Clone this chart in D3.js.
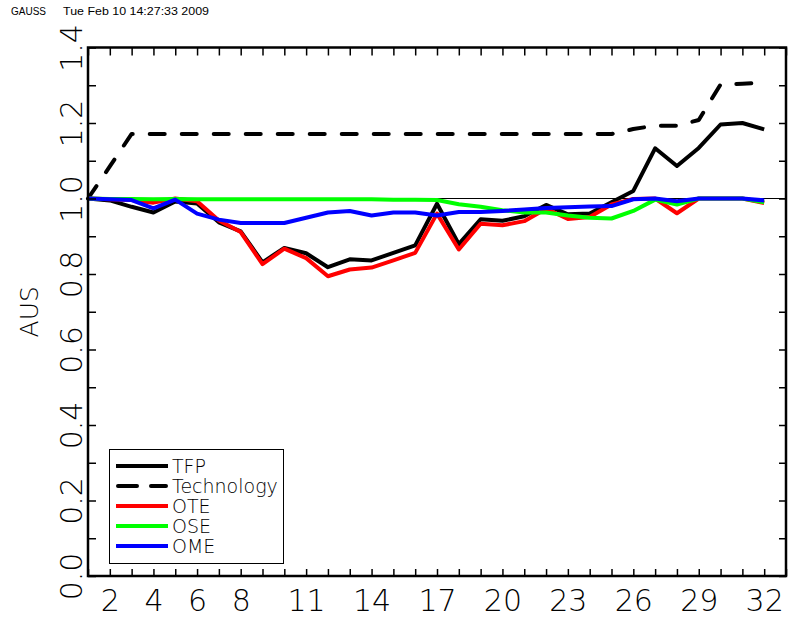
<!DOCTYPE html>
<html>
<head>
<meta charset="utf-8">
<script src="https://cdn.jsdelivr.net/npm/d3@7"></script>
<style>
  html, body { margin: 0; padding: 0; background: #fff; }
  svg { display: block; }
  .big { font-family: "DejaVu Sans", "Liberation Sans", sans-serif; font-weight: 200; }
  .small { font-family: "Liberation Sans", Arial, sans-serif; }
</style>
</head>
<body>
<script>
// Period index along the horizontal axis
const periods = [1,2,3,4,5,6,7,8,9,10,11,12,13,14,15,16,17,18,19,20,21,22,23,24,25,26,27,28,29,30,31,32];
const xTickLabels = [2,4,6,8,11,14,17,20,23,26,29,32];
const yTickLabels = [0.0,0.2,0.4,0.6,0.8,1.0,1.2,1.4];

// Index series (base = 1.0)
const tfp = [1.000,0.995,0.978,0.963,0.992,0.987,0.937,0.913,0.831,0.869,0.855,0.818,0.839,0.836,0.856,0.876,
             0.986,0.879,0.945,0.941,0.953,0.983,0.958,0.960,0.990,1.020,1.133,1.086,1.134,1.196,1.200,1.183];
const technology = [1.000,1.085,1.171,1.171,1.171,1.171,1.171,1.171,1.171,1.171,1.171,1.171,1.171,1.171,1.171,1.171,
             1.171,1.171,1.171,1.171,1.171,1.171,1.171,1.171,1.171,1.184,1.193,1.193,1.208,1.302,1.304,1.307];
const ote = [1.000,0.998,0.996,0.989,1.000,0.993,0.942,0.911,0.826,0.867,0.842,0.794,0.812,0.817,0.836,0.856,
             0.960,0.865,0.933,0.929,0.940,0.973,0.946,0.951,0.984,0.999,1.000,0.961,1.000,1.000,1.000,0.988];
const ose = [1.000,0.999,0.999,0.998,0.999,0.998,0.998,0.998,0.998,0.998,0.998,0.998,0.998,0.998,0.997,0.997,
             0.996,0.985,0.978,0.969,0.963,0.963,0.955,0.949,0.947,0.967,0.997,0.984,1.000,1.000,1.000,0.990];
const ome = [1.000,0.998,0.996,0.974,0.997,0.960,0.944,0.935,0.935,0.935,0.949,0.963,0.967,0.955,0.963,0.963,
             0.955,0.964,0.964,0.967,0.971,0.975,0.977,0.979,0.980,0.998,1.000,0.993,1.000,1.000,1.000,0.995];

const seriesNames = ["TFP","Technology","OTE","OSE","OME"];
const seriesValues = [tfp, technology, ote, ose, ome];
const seriesColors = ["#000000","#000000","#ff0000","#00ff00","#0000ff"];
const seriesDashed = [false, true, false, false, false];

const W = 789, H = 618;
const plotL = 88, plotR = 786, plotT = 47.5, plotB = 576;

const svg = d3.select("body").append("svg").attr("width", W).attr("height", H);

const x = d3.scaleLinear().domain([1, 33]).range([plotL, plotR]);
const y = d3.scaleLinear().domain([0, 1.4]).range([plotB, plotT]);

// Header stamp
svg.append("text").attr("class","small").attr("x", 11).attr("y", 15)
  .attr("font-size", 10).text("GAUSS");
svg.append("text").attr("class","small").attr("x", 63).attr("y", 15)
  .attr("font-size", 10).attr("textLength", 146).attr("lengthAdjust","spacingAndGlyphs")
  .text("Tue Feb 10 14:27:33 2009");

// Reference line at 1.0
svg.append("line")
  .attr("x1", x(1)).attr("x2", x(33))
  .attr("y1", y(1.0)).attr("y2", y(1.0))
  .attr("stroke", "#000").attr("stroke-width", 1);

// Series lines
const line = d3.line().x((d, i) => x(periods[i])).y(d => y(d));
seriesValues.forEach((vals, k) => {
  svg.append("path")
    .attr("d", line(vals))
    .attr("fill", "none")
    .attr("stroke", seriesColors[k])
    .attr("stroke-width", 4)
    .attr("stroke-linejoin", "round")
    .attr("stroke-linecap", seriesDashed[k] ? "round" : "butt")
    .attr("stroke-dasharray", seriesDashed[k] ? "15,17" : null);
});

// Tick marks on all four sides, pointing inward
const xTicks = d3.range(1, 34);
const yTicks = d3.range(0, 15).map(v => v / 10);
const tickStyle = g => {
  g.select(".domain").remove();
  g.selectAll(".tick line").attr("stroke", "#000").attr("stroke-width", 1.5);
  g.selectAll(".tick text").remove();
};
svg.append("g").attr("transform", `translate(0,${plotB})`)
  .call(d3.axisBottom(x).tickValues(xTicks).tickSize(-7)).call(tickStyle);
svg.append("g").attr("transform", `translate(0,${plotT})`)
  .call(d3.axisTop(x).tickValues(xTicks).tickSize(-8)).call(tickStyle);
svg.append("g").attr("transform", `translate(${plotL},0)`)
  .call(d3.axisLeft(y).tickValues(yTicks).tickSize(-8)).call(tickStyle);
svg.append("g").attr("transform", `translate(${plotR},0)`)
  .call(d3.axisRight(y).tickValues(yTicks).tickSize(-7)).call(tickStyle);

// Frame
svg.append("rect")
  .attr("x", plotL).attr("y", plotT)
  .attr("width", plotR - plotL).attr("height", plotB - plotT)
  .attr("fill", "none").attr("stroke", "#000").attr("stroke-width", 2.5);

// X tick labels
const xLab = svg.append("g").attr("transform", `translate(0,${plotB})`)
  .call(d3.axisBottom(x).tickValues(xTickLabels).tickSize(0).tickPadding(0).tickFormat(d3.format("d")));
xLab.select(".domain").remove();
xLab.selectAll(".tick text")
  .attr("class", "big").attr("font-size", 30).attr("fill", "#000")
  .attr("dy", null).attr("y", 35);

// Y tick labels, rotated
const yLab = svg.append("g").attr("transform", `translate(${plotL},0)`)
  .call(d3.axisLeft(y).tickValues(yTickLabels).tickSize(0).tickPadding(0).tickFormat(d3.format(".1f")));
yLab.select(".domain").remove();
yLab.selectAll(".tick text")
  .attr("class", "big").attr("font-size", 30).attr("fill", "#000")
  .attr("x", null).attr("dy", null)
  .attr("text-anchor", "middle")
  .attr("transform", "translate(-6,0) rotate(-90)");

// Y axis title
svg.append("text").attr("class","big")
  .attr("transform", `translate(38,${(plotT + plotB) / 2}) rotate(-90)`)
  .attr("text-anchor", "middle").attr("font-size", 25)
  .text("AUS");

// Legend
const lg = svg.append("g");
lg.append("rect").attr("x", 109.5).attr("y", 449.5).attr("width", 174).attr("height", 114)
  .attr("fill", "#fff").attr("stroke", "#000").attr("stroke-width", 1);
seriesNames.forEach((name, k) => {
  const ly = 466 + k * 20;
  lg.append("line")
    .attr("x1", seriesDashed[k] ? 118 : 116).attr("x2", seriesDashed[k] ? 166 : 168)
    .attr("y1", ly).attr("y2", ly)
    .attr("stroke", seriesColors[k]).attr("stroke-width", 4)
    .attr("stroke-linecap", seriesDashed[k] ? "round" : "butt")
    .attr("stroke-dasharray", seriesDashed[k] ? "19,14" : null);
  lg.append("text").attr("class","big")
    .attr("x", 172).attr("y", ly + 7)
    .attr("font-size", 19).attr("fill", "#000")
    .text(name);
});
</script>
</body>
</html>
